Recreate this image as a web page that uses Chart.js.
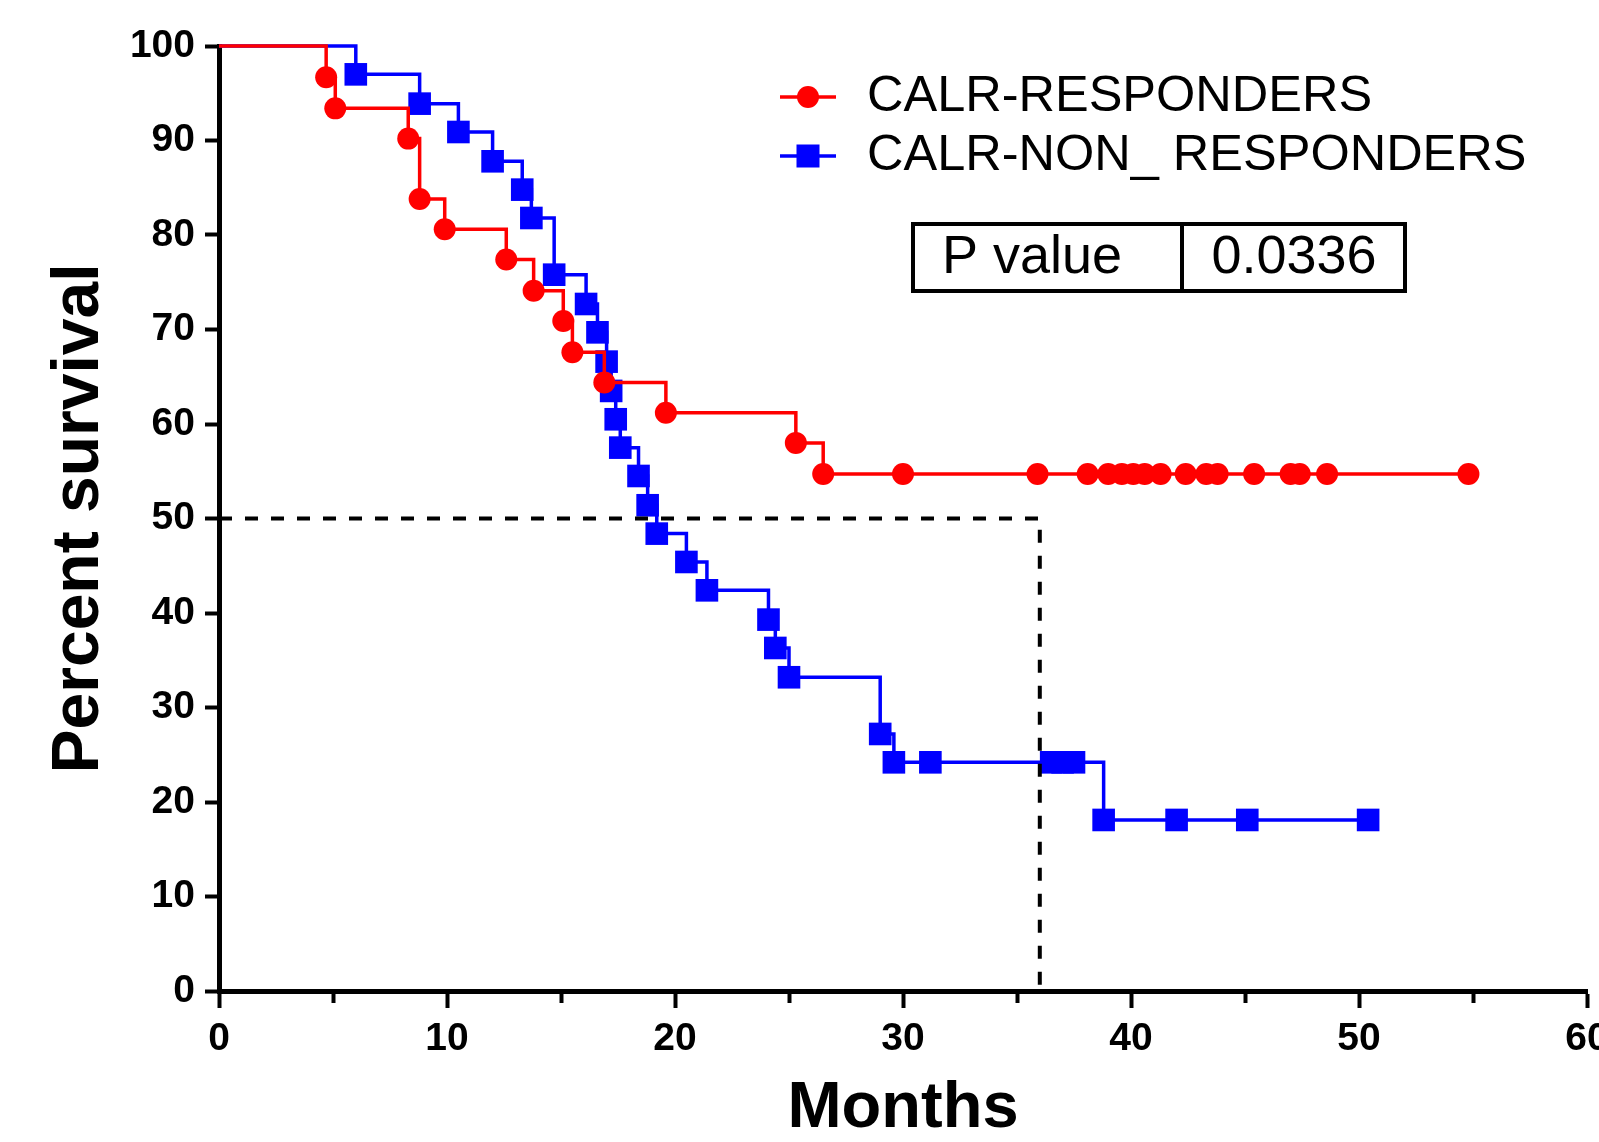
<!DOCTYPE html>
<html>
<head>
<meta charset="utf-8">
<script src="https://cdn.jsdelivr.net/npm/chart.js@4.4.1/dist/chart.umd.min.js"></script>
<style>
  html, body { margin: 0; padding: 0; background: #fff; }
  #wrap { width: 1599px; height: 1142px; }
</style>
</head>
<body>
<div id="wrap"><canvas id="kmChart" width="1599" height="1142"></canvas></div>
<script>
// Kaplan-Meier steps (months, percent survival)
const responderMonths = [0, 4.7, 5.1, 8.3, 8.8, 9.9, 12.6, 13.8, 15.1, 15.5, 16.9, 19.6, 25.3, 26.5,
  30.0, 35.9, 38.1, 39.0, 39.6, 40.1, 40.6, 41.3, 42.4, 43.3, 43.8, 45.4, 47.0, 47.4, 48.6, 54.8];
const responderSurvival = [100, 96.7, 93.4, 90.2, 83.8, 80.6, 77.4, 74.1, 70.9, 67.6, 64.4, 61.2, 58.0, 54.7,
  54.7, 54.7, 54.7, 54.7, 54.7, 54.7, 54.7, 54.7, 54.7, 54.7, 54.7, 54.7, 54.7, 54.7, 54.7, 54.7];

const nonResponderMonths = [0, 6.0, 8.8, 10.5, 12.0, 13.3, 13.7, 14.7, 16.1, 16.6, 17.0, 17.2, 17.4, 17.6,
  18.4, 18.8, 19.2, 20.5, 21.4, 24.1, 24.4, 25.0, 29.0, 29.6, 31.2, 36.5, 37.0, 37.5, 38.8, 42.0, 45.1, 50.4];
const nonResponderSurvival = [100, 97.0, 93.9, 90.9, 87.8, 84.8, 81.8, 75.8, 72.7, 69.7, 66.6, 63.5, 60.5, 57.5,
  54.5, 51.4, 48.4, 45.4, 42.4, 39.3, 36.3, 33.2, 27.2, 24.2, 24.2, 24.2, 24.2, 24.2, 18.1, 18.1, 18.1, 18.1];

// median survival guide
const medianMonths = [0, 36, 36];
const medianSurvival = [50, 50, 0];

const xTickValues = [0, 10, 20, 30, 40, 50, 60];
const xMinorTickValues = [5, 15, 25, 35, 45, 55];
const yTickValues = [0, 10, 20, 30, 40, 50, 60, 70, 80, 90, 100];

const seriesLabels = ['CALR-RESPONDERS', 'CALR-NON_ RESPONDERS'];
const pValueLabel = 'P value';
const pValueText = '0.0336';

const FONT = '"Liberation Sans", Arial, Helvetica, sans-serif';

function toPoints(xs, ys) {
  return xs.map((x, i) => ({ x: x, y: ys[i] }));
}

// keep the plot box fixed: no extra room for the end labels
function noLabelPadding(s) {
  s.paddingLeft = 0;
  s.paddingRight = 0;
  s.paddingTop = 0;
  s.paddingBottom = 0;
}

// legend + p-value table drawn inside the plot
const overlayPlugin = {
  id: 'overlay',
  afterDraw(chart) {
    const ctx = chart.ctx;
    ctx.save();
    const rows = [
      { label: seriesLabels[0], color: '#ff0000', shape: 'circle', y: 97 },
      { label: seriesLabels[1], color: '#0000ff', shape: 'rect', y: 156 }
    ];
    rows.forEach(r => {
      ctx.strokeStyle = r.color;
      ctx.lineWidth = 3.5;
      ctx.beginPath();
      ctx.moveTo(780, r.y);
      ctx.lineTo(836, r.y);
      ctx.stroke();
      ctx.fillStyle = r.color;
      if (r.shape === 'circle') {
        ctx.beginPath();
        ctx.arc(808, r.y, 11, 0, Math.PI * 2);
        ctx.fill();
      } else {
        ctx.fillRect(808 - 11.5, r.y - 11.5, 23, 23);
      }
      ctx.fillStyle = '#000';
      ctx.font = '50.5px ' + FONT;
      ctx.textAlign = 'left';
      ctx.textBaseline = 'middle';
      ctx.fillText(r.label, 867, r.y);
    });

    ctx.strokeStyle = '#000';
    ctx.lineWidth = 4;
    ctx.strokeRect(913, 224, 492, 67);
    ctx.beginPath();
    ctx.moveTo(1182, 224);
    ctx.lineTo(1182, 291);
    ctx.stroke();
    ctx.fillStyle = '#000';
    ctx.font = '54px ' + FONT;
    ctx.textBaseline = 'middle';
    ctx.textAlign = 'left';
    ctx.fillText(pValueLabel, 942, 258);
    ctx.textAlign = 'center';
    ctx.fillText(pValueText, 1294, 258);
    ctx.restore();
  }
};

new Chart(document.getElementById('kmChart'), {
  type: 'line',
  data: {
    datasets: [
      {
        label: seriesLabels[0],
        data: toPoints(responderMonths, responderSurvival),
        borderColor: '#ff0000',
        backgroundColor: '#ff0000',
        borderWidth: 3.5,
        stepped: true,
        pointStyle: 'circle',
        pointRadius: c => (c.dataIndex === 0 ? 0 : 11),
        pointBorderWidth: 0,
        clip: false,
        order: 1
      },
      {
        label: seriesLabels[1],
        data: toPoints(nonResponderMonths, nonResponderSurvival),
        borderColor: '#0000ff',
        backgroundColor: '#0000ff',
        borderWidth: 3.5,
        stepped: true,
        pointStyle: 'rect',
        pointRadius: c => (c.dataIndex === 0 ? 0 : 16),
        pointBorderWidth: 0,
        clip: false,
        order: 2
      },
      {
        label: 'median',
        data: toPoints(medianMonths, medianSurvival),
        borderColor: '#000',
        borderWidth: 4,
        borderDash: [13, 13],
        pointRadius: 0,
        clip: false,
        order: 0
      }
    ]
  },
  options: {
    responsive: false,
    animation: false,
    devicePixelRatio: 1,
    events: [],
    layout: { autoPadding: false, padding: { left: 0, top: 46, right: 12, bottom: 0 } },
    plugins: { legend: { display: false }, tooltip: { enabled: false } },
    scales: {
      x: {
        type: 'linear',
        position: 'bottom',
        weight: 1,
        min: 0,
        max: 60,
        afterBuildTicks: s => { s.ticks = xTickValues.map(v => ({ value: v })); },
        afterFit: s => { s.height = 151; noLabelPadding(s); },
        ticks: {
          autoSkip: false, maxRotation: 0, color: '#000', padding: 12,
          font: { family: FONT, size: 39, weight: 'bold', lineHeight: 1 }
        },
        grid: { drawOnChartArea: false, drawTicks: true, tickLength: 17, tickWidth: 4, tickColor: '#000' },
        border: { display: true, width: 5, color: '#000' },
        title: {
          display: true, text: 'Months', color: '#000', padding: { top: 0, bottom: 0 },
          font: { family: FONT, size: 65, weight: 'bold', lineHeight: 1 }
        }
      },
      xMinor: {
        type: 'linear',
        position: 'bottom',
        weight: 0,
        min: 0,
        max: 60,
        afterBuildTicks: s => { s.ticks = xMinorTickValues.map(v => ({ value: v })); },
        afterFit: s => { s.height = 0; noLabelPadding(s); },
        ticks: { display: false, autoSkip: false },
        grid: { drawOnChartArea: false, drawTicks: true, tickLength: 12, tickWidth: 4, tickColor: '#000' },
        border: { display: false }
      },
      y: {
        type: 'linear',
        position: 'left',
        min: 0,
        max: 100,
        afterBuildTicks: s => { s.ticks = yTickValues.map(v => ({ value: v })); },
        afterFit: s => { s.width = 219; noLabelPadding(s); },
        ticks: {
          color: '#000', padding: 10,
          font: { family: FONT, size: 39, weight: 'bold', lineHeight: 1 }
        },
        grid: { drawOnChartArea: false, drawTicks: true, tickLength: 14, tickWidth: 4, tickColor: '#000' },
        border: { display: true, width: 5, color: '#000' },
        title: {
          display: true, text: 'Percent survival', color: '#000', padding: { top: 47, bottom: 0 },
          font: { family: FONT, size: 66, weight: 'bold', lineHeight: 1 }
        }
      }
    }
  },
  plugins: [overlayPlugin]
});
</script>
</body>
</html>
